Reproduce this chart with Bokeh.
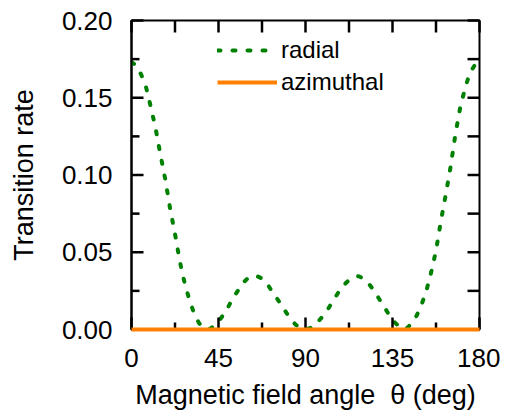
from bokeh.plotting import figure
from bokeh.models import Range1d, FixedTicker, Legend, LegendItem
from bokeh.embed import file_html
from bokeh.resources import INLINE

# ---- data ----
theta = [0, 2.5, 5, 7.5, 10, 12.5, 15, 17.5, 20, 22.5, 25, 27.5, 30, 32.5, 35, 37.5,
         40, 42.5, 45, 47.5, 50, 52.5, 55, 57.5, 60, 62.5, 65, 67.5, 70, 72.5, 75, 77.5,
         80, 82.5, 85, 87.5, 90, 92.5, 95, 97.5, 100, 102.5, 105, 107.5, 110, 112.5, 115,
         117.5, 120, 122.5, 125, 127.5, 130, 132.5, 135, 137.5, 140, 142.5, 145, 147.5,
         150, 152.5, 155, 157.5, 160, 162.5, 165, 167.5, 170, 172.5, 175, 177.5, 180]
radial = [0.173, 0.171, 0.165, 0.157, 0.144, 0.130, 0.113, 0.097, 0.078, 0.062, 0.044,
          0.030, 0.019, 0.010, 0.004, 0.001, 0.000, 0.002, 0.005, 0.0095, 0.0145, 0.0205,
          0.025, 0.030, 0.033, 0.0345, 0.0345, 0.033, 0.030, 0.025, 0.0205, 0.016, 0.011,
          0.0065, 0.003, 0.001, 0.000, 0.001, 0.003, 0.0065, 0.010, 0.015, 0.020, 0.025,
          0.029, 0.032, 0.0338, 0.0345, 0.033, 0.030, 0.026, 0.021, 0.016, 0.011, 0.006,
          0.003, 0.0003, 0.001, 0.004, 0.009, 0.016, 0.025, 0.037, 0.051, 0.070, 0.087,
          0.105, 0.126, 0.1435, 0.156, 0.166, 0.171, 0.173]
az_theta = [0, 45, 90, 135, 180]
azimuthal = [0.0, 0.0, 0.0, 0.0, 0.0]

x_major = [0, 45, 90, 135, 180]
x_minor = [22.5, 67.5, 112.5, 157.5]
y_major = [0.0, 0.05, 0.10, 0.15, 0.20]
y_minor = [0.025, 0.075, 0.125, 0.175]
y_labels = ["0.00", "0.05", "0.10", "0.15", "0.20"]
x_label = "Magnetic field angle\u00a0\u00a0\u03b8 (deg)"
y_label = "Transition rate"

FONT = "Liberation Sans"
GREEN = "#008000"
ORANGE = "#ff8000"

W, H = 500, 412
BL, BR, BT, BB = 131, 21, 20, 83
x0, x1 = x_major[0], x_major[-1]
y0, y1 = y_major[0], y_major[-1]
# data units per screen pixel inside the frame
dxp = (x1 - x0) / (W - BL - BR)
dyp = (y1 - y0) / (H - BT - BB)

p = figure(width=W, height=H, output_backend="svg", toolbar_location=None,
           x_range=Range1d(x0, x1), y_range=Range1d(y0, y1),
           min_border_left=BL, min_border_right=BR, min_border_top=BT,
           min_border_bottom=BB)
p.grid.visible = False
p.outline_line_color = "black"
p.outline_line_width = 2
p.background_fill_color = "white"
p.border_fill_color = "white"


def style(ax, ticks, minor):
    ax.ticker = FixedTicker(ticks=ticks, minor_ticks=minor)
    ax.axis_line_width = 2
    ax.axis_line_color = "black"
    ax.major_tick_in = 0
    ax.major_tick_out = 0
    ax.minor_tick_in = 0
    ax.minor_tick_out = 0
    ax.major_tick_line_color = None
    ax.minor_tick_line_color = None
    ax.major_label_text_font = FONT
    ax.major_label_text_font_size = "26px"
    ax.major_label_text_color = "black"
    ax.axis_label_text_font = FONT
    ax.axis_label_text_font_size = "27px"
    ax.axis_label_text_font_style = "normal"
    ax.axis_label_text_color = "black"


xa = p.xaxis[0]
ya = p.yaxis[0]
style(xa, x_major, x_minor)
style(ya, y_major, y_minor)
xa.major_label_standoff = 19
ya.major_label_standoff = 19
ya.major_label_overrides = {t: s for t, s in zip(y_major, y_labels)}
xa.axis_label = x_label
ya.axis_label = y_label
xa.axis_label_standoff = 10
ya.axis_label_standoff = 20

# inward tick marks on all four sides
tick_kw = dict(line_color="black", line_width=2.5, level="overlay")
# left
p.segment(x0=[x0] * len(y_major), y0=y_major, x1=[x0 + 12 * dxp] * len(y_major),
          y1=y_major, **tick_kw)
p.segment(x0=[x0] * len(y_minor), y0=y_minor, x1=[x0 + 8 * dxp] * len(y_minor),
          y1=y_minor, **tick_kw)
# bottom
p.segment(x0=x_major, y0=[y0] * len(x_major), x1=x_major,
          y1=[y0 + 12 * dyp] * len(x_major), **tick_kw)
p.segment(x0=x_minor, y0=[y0] * len(x_minor), x1=x_minor,
          y1=[y0 + 7 * dyp] * len(x_minor), **tick_kw)
# top
top_ticks = x_major + x_minor
p.segment(x0=top_ticks, y0=[y1] * len(top_ticks), x1=top_ticks,
          y1=[y1 - 12 * dyp] * len(top_ticks), **tick_kw)
# right
right_ticks = y_major + y_minor
p.segment(x0=[x1] * len(right_ticks), y0=right_ticks,
          x1=[x1 - 12 * dxp] * len(right_ticks), y1=right_ticks, **tick_kw)

r_rad = p.line(theta, radial, line_color=GREEN, line_width=4,
               line_dash="3 12", line_cap="round")
r_az = p.line(az_theta, azimuthal, line_color=ORANGE, line_width=4, level="overlay")

legend = Legend(items=[LegendItem(label="radial", renderers=[r_rad]),
                       LegendItem(label="azimuthal", renderers=[r_az])],
                location=(86, 233), orientation="vertical",
                border_line_color=None, background_fill_alpha=0,
                padding=0, margin=0, spacing=4,
                glyph_width=60, glyph_height=20, label_height=20,
                label_standoff=4, label_text_font=FONT,
                label_text_font_size="24px", label_text_color="black")
p.add_layout(legend)

open("out.html", "w").write(file_html(p, INLINE))
